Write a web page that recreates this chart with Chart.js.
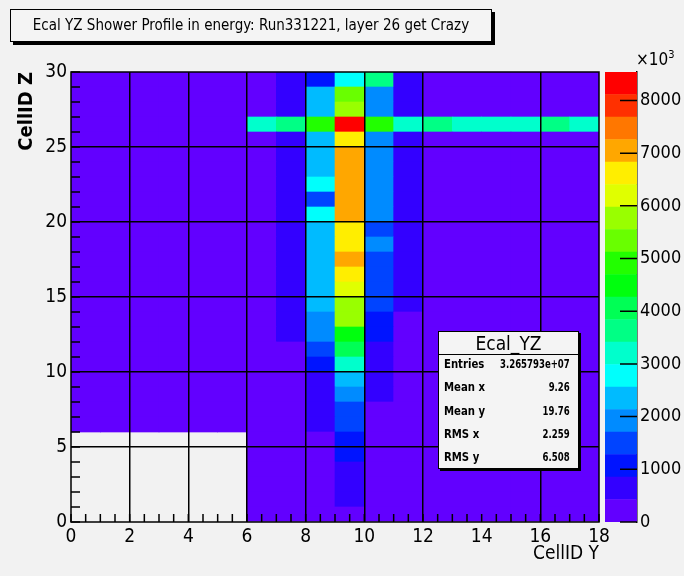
<!DOCTYPE html>
<html>
<head>
<meta charset="utf-8">
<title>Ecal YZ Shower Profile</title>
<script src="https://cdn.jsdelivr.net/npm/chart.js@4.4.1/dist/chart.umd.min.js"></script>
<style>
  html, body { margin: 0; padding: 0; background: #f2f2f2; }
  #stage {
    position: relative; width: 684px; height: 576px; overflow: hidden; background: #f2f2f2;
    font-family: "DejaVu Sans Condensed", "Liberation Sans", Arial, sans-serif;
    color: #000;
  }
  canvas { position: absolute; top: 0; }
  #main { left: 0; }
  #zbar { left: 600px; }
  .box { position: absolute; background: #f4f4f4; border: 1px solid #000; box-sizing: border-box; }
  #title {
    left: 10px; top: 9px; width: 482px; height: 33px; line-height: 31px; white-space: nowrap;
    text-align: center; font-size: 15px; box-shadow: 3px 3px 0 #000;
  }
  #stats { left: 438px; top: 331px; width: 141px; height: 138px; box-shadow: 2px 2px 0 #000; }
  #stats .head {
    position: absolute; left: 0; right: 0; top: 0; height: 22px; line-height: 22px;
    text-align: center; font-size: 19px; border-bottom: 1px solid #000;
  }
  #stats .row {
    position: absolute; left: 5px; right: 8px; height: 16px; line-height: 16px;
    font-size: 12.5px; font-weight: bold; white-space: nowrap;
  }
  #stats .row .lab { position: absolute; left: 0; transform: scaleX(0.9); transform-origin: left center; }
  #stats .row .val { position: absolute; right: 0; transform: scaleX(0.76); transform-origin: right center; }
  #zexp { position: absolute; left: 636px; top: 51px; font-size: 17px; line-height: 17px; white-space: nowrap; }
  #zexp sup { font-size: 11px; vertical-align: 7px; line-height: 0; }
</style>
</head>
<body>
<div id="stage">
  <canvas id="main" width="684" height="576" style="width:684px;height:576px"></canvas>
  <canvas id="zbar" width="84" height="576" style="width:84px;height:576px"></canvas>
  <div id="title" class="box">Ecal YZ Shower Profile in energy: Run331221, layer 26 get Crazy</div>
  <div id="stats" class="box"><div class="head">Ecal_YZ</div></div>
  <div id="zexp">×10<sup>3</sup></div>
</div>
<script>
// ---- histogram Ecal_YZ : energy per cell (units of 10^3) ----
const cellY = [0, 1, 2, 3, 4, 5, 6, 7, 8, 9, 10, 11, 12, 13, 14, 15, 16, 17];   // CellID Y bin lower edges
const cellZ = [0, 1, 2, 3, 4, 5, 6, 7, 8, 9, 10, 11, 12, 13, 14,
               15, 16, 17, 18, 19, 20, 21, 22, 23, 24, 25, 26, 27, 28, 29];   // CellID Z bin lower edges

// rows listed from CellID Z = 29 (top) down to CellID Z = 0; null = empty cell
const energy = [
  [110, 110, 110, 110, 110, 110,  240,  640, 1070, 2780, 3630,  640, 130, 130, 130, 130, 130, 130], // 29
  [110, 110, 110, 110, 110, 110,  240,  640, 2350, 5340, 1920,  640, 130, 130, 130, 130, 130, 130], // 28
  [110, 110, 110, 110, 110, 110,  240,  640, 2350, 5760, 1920,  640, 130, 130, 130, 130, 130, 130], // 27
  [110, 110, 110, 110, 110, 110, 3200, 3630, 4910, 8540, 4910, 3200, 3630, 3200, 3200, 3200, 3630, 3200], // 26
  [110, 110, 110, 110, 110, 110,  240,  640, 2350, 6620, 1920,  640, 130, 130, 130, 130, 130, 130], // 25
  [110, 110, 110, 110, 110, 110,  240,  640, 2350, 7050, 1920,  640, 130, 130, 130, 130, 130, 130], // 24
  [110, 110, 110, 110, 110, 110,  240,  640, 2350, 7050, 1920,  640, 130, 130, 130, 130, 130, 130], // 23
  [110, 110, 110, 110, 110, 110,  240,  640, 2780, 7050, 1920,  640, 130, 130, 130, 130, 130, 130], // 22
  [110, 110, 110, 110, 110, 110,  240,  640, 1490, 7050, 1920,  640, 130, 130, 130, 130, 130, 130], // 21
  [110, 110, 110, 110, 110, 110,  240,  640, 2780, 7050, 1920,  640, 130, 130, 130, 130, 130, 130], // 20
  [110, 110, 110, 110, 110, 110,  240,  640, 2350, 6620, 1490,  640, 130, 130, 130, 130, 130, 130], // 19
  [110, 110, 110, 110, 110, 110,  240,  640, 2350, 6620, 1920,  640, 130, 130, 130, 130, 130, 130], // 18
  [110, 110, 110, 110, 110, 110,  240,  640, 2350, 7050, 1490,  640, 130, 130, 130, 130, 130, 130], // 17
  [110, 110, 110, 110, 110, 110,  240,  640, 2350, 6620, 1490,  640, 130, 130, 130, 130, 130, 130], // 16
  [110, 110, 110, 110, 110, 110,  240,  640, 2350, 6190, 1490,  640, 130, 130, 130, 130, 130, 130], // 15
  [110, 110, 110, 110, 110, 110,  240,  640, 2350, 5760, 1490,  640, 130, 130, 130, 130, 130, 130], // 14
  [110, 110, 110, 110, 110, 110,  240,  640, 1920, 5760, 1070,  300, 130, 130, 130, 130, 130, 130], // 13
  [110, 110, 110, 110, 110, 110,  240,  640, 1920, 4480, 1070,  300, 130, 130, 130, 130, 130, 130], // 12
  [110, 110, 110, 110, 110, 110,  240,  300, 1490, 4060,  640,  300, 130, 130, 130, 130, 130, 130], // 11
  [110, 110, 110, 110, 110, 110,  240,  300, 1070, 3200,  640,  300, 130, 130, 130, 130, 130, 130], // 10
  [110, 110, 110, 110, 110, 110,  240,  300,  640, 2350,  640,  300, 130, 130, 130, 130, 130, 130], // 9
  [110, 110, 110, 110, 110, 110,  240,  300,  640, 1920,  640,  300, 130, 130, 130, 130, 130, 130], // 8
  [110, 110, 110, 110, 110, 110,  240,  300,  640, 1490,  300,  300, 130, 130, 130, 130, 130, 130], // 7
  [110, 110, 110, 110, 110, 110,  240,  300,  640, 1490,  300,  300, 130, 130, 130, 130, 130, 130], // 6
  [null, null, null, null, null, null, 240, 300, 330, 1070, 300, 300, 130, 130, 130, 130, 130, 130], // 5
  [null, null, null, null, null, null, 240, 300, 330, 1070, 300, 300, 130, 130, 130, 130, 130, 130], // 4
  [null, null, null, null, null, null, 240, 300, 330,  640, 300, 300, 130, 130, 130, 130, 130, 130], // 3
  [null, null, null, null, null, null, 240, 300, 330,  640, 300, 300, 130, 130, 130, 130, 130, 130], // 2
  [null, null, null, null, null, null, 240, 300, 330,  640, 300, 300, 130, 130, 130, 130, 130, 130], // 1
  [null, null, null, null, null, null, 240, 300, 330,  330, 300, 300, 130, 130, 130, 130, 130, 130]  // 0
];

const xTickLabels = [0, 2, 4, 6, 8, 10, 12, 14, 16, 18];
const yTickLabels = [0, 5, 10, 15, 20, 25, 30];
const zTickLabels = [0, 1000, 2000, 3000, 4000, 5000, 6000, 7000, 8000];

const statNames  = ['Entries', 'Mean x', 'Mean y', 'RMS x', 'RMS y'];
const statValues = ['3.265793e+07', '9.26', '19.76', '2.259', '6.508'];

// ---- styling ----
const FONT = '"DejaVu Sans Condensed", "Liberation Sans", Arial, sans-serif';
Chart.defaults.font.family = FONT;
Chart.defaults.color = '#000';

// violet -> red "pretty" palette, 20 contour levels
const palette = [
  '#6200ff', '#3300ff', '#0014ff', '#0044ff', '#008bff',
  '#00bbff', '#00fffc', '#00ffcc', '#00ff85', '#00ff55',
  '#00ff0e', '#22ff00', '#69ff00', '#99ff00', '#e0ff00',
  '#ffee00', '#ffa700', '#ff7700', '#ff3000', '#ff0000'
];
const nContours = palette.length;
const zMax = Math.max(...energy.flat().filter(v => v !== null));
const colourFor = v => palette[Math.min(nContours - 1, Math.floor(v / zMax * nContours))];

const xGridAt = [2, 4, 6, 8, 10, 12, 16];
const yGridAt = [5, 10, 15, 20, 25];

// one floating-bar dataset per CellID Z row
const rowDatasets = cellZ.map(z => {
  const row = energy[cellZ.length - 1 - z];
  const pts = [];
  row.forEach((v, i) => {
    if (v !== null) pts.push({ x: cellY[i] + 0.5, y: [z, z + 1], e: v });
  });
  return {
    label: 'z' + z,
    data: pts,
    backgroundColor: pts.map(p => colourFor(p.e)),
    borderWidth: 0,
    grouped: false,
    barPercentage: 1,
    categoryPercentage: 1
  };
});

// frame plus inward minor ticks
const frameTicks = {
  id: 'frameTicks',
  afterDraw(chart) {
    const { ctx, chartArea: a, scales: { x, y } } = chart;
    ctx.save();
    ctx.strokeStyle = '#000';
    ctx.lineWidth = 1.5;
    ctx.beginPath();
    for (let v = x.min; v <= x.max; v += 0.5) {
      const px = x.getPixelForValue(v);
      ctx.moveTo(px, a.bottom); ctx.lineTo(px, a.bottom - 8);
    }
    for (let v = y.min; v <= y.max; v += 1) {
      const py = y.getPixelForValue(v);
      ctx.moveTo(a.left, py); ctx.lineTo(a.left + 9, py);
    }
    ctx.stroke();
    ctx.strokeRect(a.left, a.top, a.right - a.left, a.bottom - a.top);
    ctx.restore();
  }
};

const tickFont = { family: FONT, size: 19 };

new Chart(document.getElementById('main'), {
  type: 'bar',
  data: { datasets: rowDatasets },
  options: {
    responsive: false,
    animation: false,
    devicePixelRatio: 1,
    layout: { padding: { left: 0, top: 72, right: 85, bottom: 0 } },
    plugins: { legend: { display: false }, tooltip: { enabled: false }, title: { display: false } },
    scales: {
      x: {
        type: 'linear', min: 0, max: 18, offset: false,
        grid: {
          offset: false, drawTicks: false, z: 1, lineWidth: 1.5,
          color: c => (c.tick && xGridAt.includes(c.tick.value)) ? '#000' : 'rgba(0,0,0,0)'
        },
        border: { display: false },
        ticks: {
          stepSize: 1, autoSkip: false, maxRotation: 0, minRotation: 0, padding: 4, font: tickFont,
          callback: v => xTickLabels.includes(v) ? String(v) : ''
        },
        title: {
          display: true, text: 'CellID Y', align: 'end',
          font: { family: FONT, size: 19 }, padding: { top: 0, bottom: 11 }
        },
        afterFit: s => { s.height = 54; }
      },
      y: {
        type: 'linear', min: 0, max: 30,
        grid: {
          drawTicks: false, z: 1, lineWidth: 1.5,
          color: c => (c.tick && yGridAt.includes(c.tick.value)) ? '#000' : 'rgba(0,0,0,0)'
        },
        border: { display: false },
        ticks: {
          stepSize: 1, autoSkip: false, padding: 4, font: tickFont,
          callback: v => yTickLabels.includes(v) ? String(v) : ''
        },
        title: {
          display: true, text: 'CellID Z', align: 'end',
          font: { family: FONT, size: 20, weight: 'bold' }, padding: { top: 15, bottom: 0 }
        },
        afterFit: s => { s.width = 71; }
      }
    }
  },
  plugins: [frameTicks]
});

// ---- colour scale ----
const bandWidth = zMax / nContours;
const zTicks = {
  id: 'zTicks',
  afterDraw(chart) {
    const { ctx, chartArea: a, scales: { y } } = chart;
    ctx.save();
    ctx.strokeStyle = '#000';
    ctx.lineWidth = 1.5;
    ctx.beginPath();
    zTickLabels.forEach(v => {
      const py = y.getPixelForValue(v);
      ctx.moveTo(a.right, py); ctx.lineTo(a.right - 17, py);
    });
    ctx.stroke();
    ctx.restore();
  }
};

new Chart(document.getElementById('zbar'), {
  type: 'bar',
  data: {
    labels: ['energy'],
    datasets: palette.map((c, k) => ({
      data: [[k * bandWidth, (k + 1) * bandWidth]],
      backgroundColor: c,
      borderWidth: 0,
      grouped: false,
      barPercentage: 1,
      categoryPercentage: 1
    }))
  },
  options: {
    responsive: false,
    animation: false,
    devicePixelRatio: 1,
    layout: { padding: { left: 5, top: 72, right: 0, bottom: 54 } },
    plugins: { legend: { display: false }, tooltip: { enabled: false } },
    scales: {
      x: { display: false },
      y: {
        position: 'right', min: 0, max: zMax,
        grid: { display: false, drawTicks: false },
        border: { display: true, color: '#000', width: 1.5 },
        afterBuildTicks: s => { s.ticks = zTickLabels.map(v => ({ value: v })); },
        ticks: {
          autoSkip: false, padding: 3, font: { family: FONT, size: 18 },
          callback: v => String(v)
        },
        afterFit: s => { s.width = 47; }
      }
    }
  },
  plugins: [zTicks]
});

// ---- statistics box ----
const stats = document.getElementById('stats');
statNames.forEach((name, i) => {
  const row = document.createElement('div');
  row.className = 'row';
  row.style.top = (24 + i * 23.3) + 'px';
  const a = document.createElement('span'); a.className = 'lab'; a.textContent = name;
  const b = document.createElement('span'); b.className = 'val'; b.textContent = statValues[i];
  row.appendChild(a); row.appendChild(b);
  stats.appendChild(row);
});
</script>
</body>
</html>
